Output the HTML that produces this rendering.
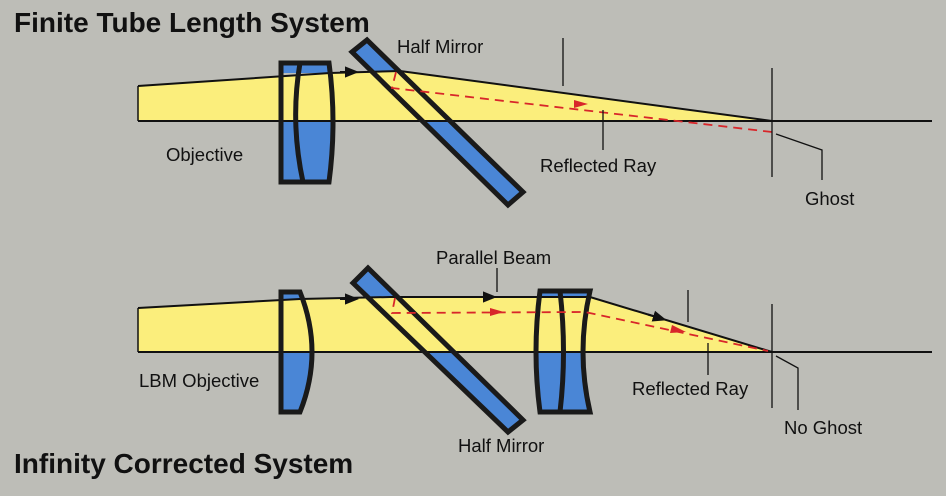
<!DOCTYPE html>
<html><head><style>
html,body{margin:0;padding:0;background:#bdbdb7;}
svg{display:block;}
text{font-family:"Liberation Sans",sans-serif;fill:#111;}
</style></head><body>
<svg width="946" height="496" viewBox="0 0 946 496">
<rect width="946" height="496" fill="#bdbdb7"/>
<defs>
<marker id="ab" viewBox="0 0 10 10" refX="5" refY="5" markerWidth="7" markerHeight="7" orient="auto"><path d="M0,1 L10,5 L0,9 z" fill="#111"/></marker>
</defs>
<!-- ===== TOP ===== -->
<text x="14" y="32" font-size="28" font-weight="bold">Finite Tube Length System</text>
<path d="M138,86 L330,73 L400,71 L772,121 L138,121 Z" fill="#fbee7c"/>
<rect x="281" y="63" width="48" height="10" fill="#4a86d6"/>
<path d="M281,121 L333,121 Q333,152 329,182 L281,182 Z" fill="#4a86d6"/>
<polygon points="352,52 367,40 400,72 372,72" fill="#4a86d6"/>
<polygon points="422,121 450,121 523,192 508,205" fill="#4a86d6"/>
<line x1="138" y1="121" x2="932" y2="121" stroke="#111" stroke-width="2"/>
<path d="M138,86 L330,73 L400,71 L772,121" fill="none" stroke="#111" stroke-width="2"/>
<path d="M138,86 L138,121" stroke="#111" stroke-width="1.5"/>
<path d="M340,72 L352,72" stroke="#111" stroke-width="2" marker-end="url(#ab)"/>
<path d="M281,63 L329,63 Q337,122 329,182 L281,182 Z" fill="none" stroke="#1a1a1a" stroke-width="5"/>
<path d="M300,63 Q290,122 303,182" fill="none" stroke="#1a1a1a" stroke-width="5"/>
<polygon points="352,52 367,40 523,192 508,205" fill="none" stroke="#1a1a1a" stroke-width="5"/>
<path d="M396,72 L392,88 L772,132" fill="none" stroke="#d8262a" stroke-width="1.8" stroke-dasharray="9,6"/>
<path d="M574,100 L588,104 L574,108 z" fill="#d8262a"/>
<line x1="563" y1="38" x2="563" y2="86" stroke="#111" stroke-width="1.3"/>
<line x1="603" y1="110" x2="603" y2="150" stroke="#111" stroke-width="1.3"/>
<line x1="772" y1="68" x2="772" y2="177" stroke="#111" stroke-width="1.3"/>
<path d="M776,134 L822,150 L822,180" fill="none" stroke="#111" stroke-width="1.3"/>
<text x="397" y="53" font-size="18.5">Half Mirror</text>
<text x="166" y="161" font-size="18.5">Objective</text>
<text x="540" y="172" font-size="18.5">Reflected Ray</text>
<text x="805" y="205" font-size="18.5">Ghost</text>

<!-- ===== BOTTOM ===== -->
<path d="M138,308 L300,299 L390,297 L590,297 L772,352 L138,352 Z" fill="#fbee7c"/>
<rect x="281" y="292" width="19" height="7" fill="#4a86d6"/>
<path d="M281,352 L312,352 Q312,382 300,412 L281,412 Z" fill="#4a86d6"/>
<polygon points="353,283 368,268 398,298 369,298" fill="#4a86d6"/>
<polygon points="425,352 454,352 523,420 508,432" fill="#4a86d6"/>
<rect x="540" y="291" width="50" height="6" fill="#4a86d6"/>
<path d="M536,352 L583,352 Q583,382 590,412 L540,412 Q536,382 536,352 Z" fill="#4a86d6"/>
<line x1="138" y1="352" x2="932" y2="352" stroke="#111" stroke-width="2"/>
<path d="M138,308 L300,299 L390,297 L590,297 L772,352" fill="none" stroke="#111" stroke-width="2"/>
<path d="M138,308 L138,352" stroke="#111" stroke-width="1.5"/>
<path d="M340,299 L352,299" stroke="#111" stroke-width="2" marker-end="url(#ab)"/>
<path d="M478,297 L490,297" stroke="#111" stroke-width="2" marker-end="url(#ab)"/>
<path d="M648,314.5 L660,318.2" stroke="#111" stroke-width="2" marker-end="url(#ab)"/>
<path d="M281,292 L300,292 Q324,352 300,412 L281,412 Z" fill="none" stroke="#1a1a1a" stroke-width="5"/>
<polygon points="353,283 368,268 523,420 508,432" fill="none" stroke="#1a1a1a" stroke-width="5"/>
<path d="M540,291 L590,291 Q576,352 590,412 L540,412 Q532,352 540,291 Z" fill="none" stroke="#1a1a1a" stroke-width="5"/>
<path d="M560,291 Q567,352 560,412" fill="none" stroke="#1a1a1a" stroke-width="5"/>
<path d="M395,298 L392,313 L585,312 L768,351" fill="none" stroke="#d8262a" stroke-width="1.8" stroke-dasharray="9,6"/>
<path d="M490,308 L504,312 L490,316 z" fill="#d8262a"/>
<path d="M672,325 L686,332 L670,333 z" fill="#d8262a"/>
<line x1="497" y1="268" x2="497" y2="292" stroke="#111" stroke-width="1.3"/>
<line x1="688" y1="290" x2="688" y2="322" stroke="#111" stroke-width="1.3"/>
<line x1="708" y1="343" x2="708" y2="375" stroke="#111" stroke-width="1.3"/>
<line x1="772" y1="304" x2="772" y2="408" stroke="#111" stroke-width="1.3"/>
<path d="M776,356 L798,368 L798,410" fill="none" stroke="#111" stroke-width="1.3"/>
<text x="436" y="264" font-size="18.5">Parallel Beam</text>
<text x="139" y="387" font-size="18.5">LBM Objective</text>
<text x="632" y="395" font-size="18.5">Reflected Ray</text>
<text x="784" y="434" font-size="18.5">No Ghost</text>
<text x="458" y="452" font-size="18.5">Half Mirror</text>
<text x="14" y="473" font-size="28" font-weight="bold">Infinity Corrected System</text>
</svg>
</body></html>
